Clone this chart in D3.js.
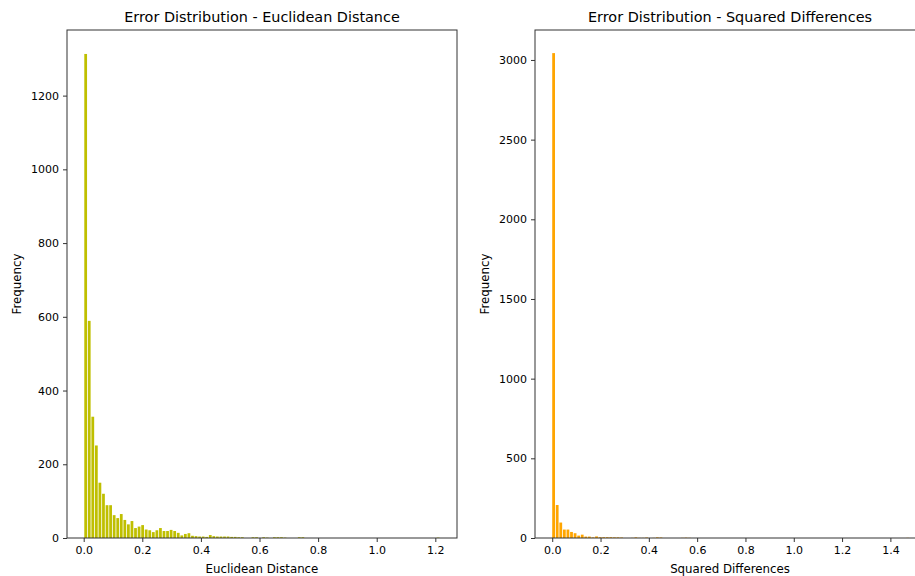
<!DOCTYPE html>
<html>
<head>
<meta charset="utf-8">
<script src="https://cdn.jsdelivr.net/npm/d3@7"></script>
<style>
  body { margin: 0; background: #fff; }
  svg { display: block; font-family: "DejaVu Sans", sans-serif; }
</style>
</head>
<body>
<svg id="chart" width="915" height="576"></svg>
<script>
// histogram counts, 100 bins each
const euclidRange = [0.002, 1.217];
const euclidCounts = [
  1313, 589, 329, 251, 150, 120, 89, 89, 62, 54,
  65, 49, 37, 46, 27, 31, 35, 23, 21, 16,
  21, 27, 19, 19, 22, 19, 14, 7, 11, 13,
  6, 5, 4, 4, 3, 8, 5, 4, 4, 4,
  4, 3, 3, 2, 2, 0, 0, 2, 2, 0,
  2, 1, 0, 2, 2, 2, 1, 0, 0, 0,
  2, 2, 0, 0, 0, 0, 0, 0, 0, 0,
  0, 0, 0, 0, 0, 0, 0, 0, 0, 0,
  0, 0, 0, 0, 0, 0, 0, 0, 0, 0,
  0, 0, 0, 0, 0, 0, 0, 0, 0, 1
];
const squaredRange = [0.0, 1.481];
const squaredCounts = [
  3043, 207, 97, 53, 53, 38, 30, 15, 21, 9,
  9, 4, 10, 5, 5, 5, 5, 4, 4, 3,
  0, 0, 1, 4, 1, 1, 3, 0, 1, 4,
  3, 0, 0, 0, 0, 0, 1, 2, 1, 0,
  0, 0, 0, 0, 0, 0, 0, 0, 0, 0,
  0, 0, 0, 0, 0, 0, 0, 0, 0, 0,
  0, 0, 0, 0, 0, 0, 0, 0, 0, 0,
  0, 0, 0, 0, 0, 0, 0, 0, 0, 0,
  0, 0, 0, 0, 0, 0, 0, 0, 0, 0,
  0, 0, 0, 0, 0, 0, 0, 0, 0, 1
];
const xTicksLeft = [0, 0.2, 0.4, 0.6, 0.8, 1.0, 1.2];
const yTicksLeft = [0, 200, 400, 600, 800, 1000, 1200];
const xTicksRight = [0, 0.2, 0.4, 0.6, 0.8, 1.0, 1.2, 1.4];
const yTicksRight = [0, 500, 1000, 1500, 2000, 2500, 3000];

const svg = d3.select("#chart");

function toBins(range, counts) {
  const w = (range[1] - range[0]) / counts.length;
  return counts.map((c, i) => ({ x0: range[0] + i * w, x1: range[0] + (i + 1) * w, count: c }));
}

function drawPanel(opts) {
  const { left, right, top, bottom, xDomain, yMax, bins, color, xTicks, yTicks, title, xLabel, labelX } = opts;
  const g = svg.append("g");
  const x = d3.scaleLinear().domain(xDomain).range([left, right]);
  const y = d3.scaleLinear().domain([0, yMax]).range([bottom, top]);

  g.selectAll("rect.bar")
    .data(bins.filter(d => d.count > 0))
    .join("rect")
    .attr("class", "bar")
    .attr("x", d => x(d.x0))
    .attr("width", d => Math.max(0.5, x(d.x1) - x(d.x0) - 0.8))
    .attr("y", d => y(d.count))
    .attr("height", d => y(0) - y(d.count))
    .attr("fill", color);

  const xAxis = g.append("g")
    .attr("transform", `translate(0,${bottom})`)
    .call(d3.axisBottom(x).tickValues(xTicks).tickFormat(d3.format(".1f")).tickSizeOuter(0).tickSize(4).tickPadding(4));
  const yAxis = g.append("g")
    .attr("transform", `translate(${left},0)`)
    .call(d3.axisLeft(y).tickValues(yTicks).tickFormat(d3.format("d")).tickSizeOuter(0).tickSize(4).tickPadding(4));
  [xAxis, yAxis].forEach(a => {
    a.select(".domain").remove();
    a.selectAll("text").attr("font-size", 11).attr("fill", "#000").attr("font-family", "DejaVu Sans");
    a.selectAll("line").attr("stroke", "#333");
  });

  // spines
  g.append("rect")
    .attr("x", left).attr("y", top)
    .attr("width", right - left).attr("height", bottom - top)
    .attr("fill", "none").attr("stroke", "#333").attr("stroke-width", 1);

  g.append("text")
    .attr("x", (left + right) / 2).attr("y", 22)
    .attr("text-anchor", "middle").attr("font-size", 14.4)
    .text(title);
  g.append("text")
    .attr("x", (left + right) / 2).attr("y", 573)
    .attr("text-anchor", "middle").attr("font-size", 11.8)
    .text(xLabel);
  g.append("text")
    .attr("transform", `translate(${labelX},${(top + bottom) / 2}) rotate(-90)`)
    .attr("text-anchor", "middle").attr("font-size", 11.8)
    .text("Frequency");
}

drawPanel({
  left: 67, right: 457, top: 30, bottom: 538,
  xDomain: [-0.057, 1.274], yMax: 1378,
  bins: toBins(euclidRange, euclidCounts), color: "#bfbf00",
  xTicks: xTicksLeft, yTicks: yTicksLeft,
  title: "Error Distribution - Euclidean Distance",
  xLabel: "Euclidean Distance", labelX: 21
});

drawPanel({
  left: 535, right: 925, top: 30, bottom: 538,
  xDomain: [-0.0713, 1.5433], yMax: 3188,
  bins: toBins(squaredRange, squaredCounts), color: "#ffa500",
  xTicks: xTicksRight, yTicks: yTicksRight,
  title: "Error Distribution - Squared Differences",
  xLabel: "Squared Differences", labelX: 489
});
</script>
</body>
</html>
